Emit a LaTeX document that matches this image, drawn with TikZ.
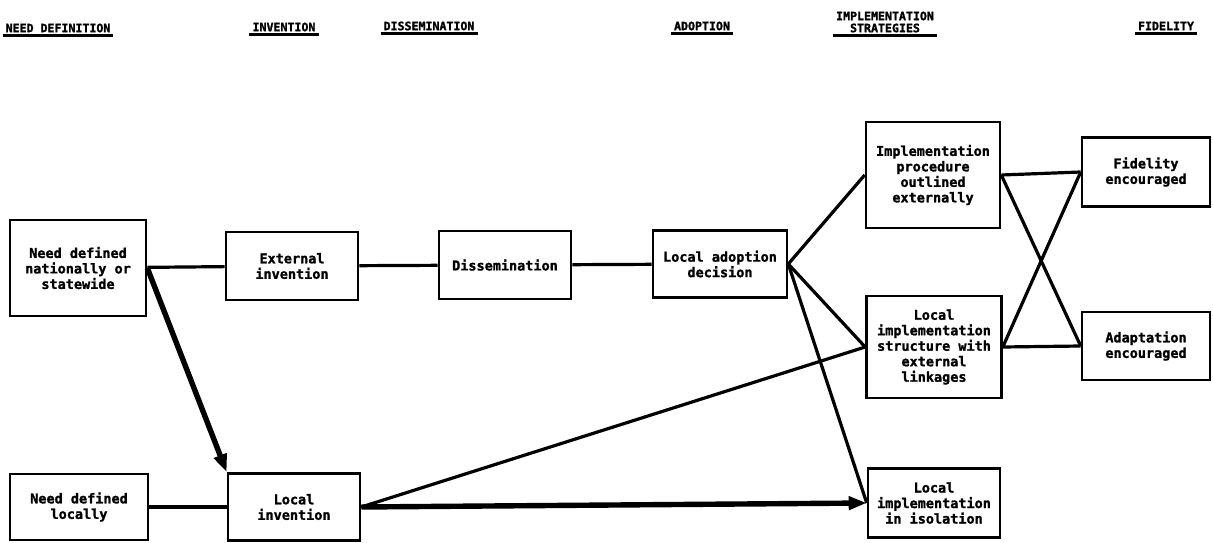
\documentclass[tikz,border=0pt]{standalone}
\usepackage{fontspec}
\setmonofont{DejaVu Sans Mono}[BoldFeatures={FakeBold=1.5}]
\usepackage{tikz}
\usetikzlibrary{arrows.meta}

\begin{document}
\begin{tikzpicture}[x=1pt,y=-1pt,line width=3.2pt]
    \tikzstyle{every node}=[font=\ttfamily\bfseries\fontsize{13.5}{15.5}\selectfont,align=center]
    \tikzstyle{box}=[draw,line width=2.6pt,inner sep=2pt]
    \tikzstyle{head}=[font=\ttfamily\bfseries\fontsize{11.6}{12}\selectfont,inner sep=1.5pt]
    \tikzstyle{ul}=[line width=2.4pt]
    \tikzstyle{heavy}=[line width=5.4pt,-{Triangle[length=18pt,width=13pt]}]
    \useasboundingbox (0,0) rectangle (1213,543);
    % column headings
    \node[head] (hNeed) at (58,28) {NEED DEFINITION};
    \node[head] (hInv) at (284,27) {INVENTION};
    \node[head] (hDiss) at (429,26) {DISSEMINATION};
    \node[head] (hAdopt) at (702,26) {ADOPTION};
    \node[head] (hImpl) at (885,22) {IMPLEMENTATION\\STRATEGIES};
    \node[head] (hFid) at (1166,26) {FIDELITY};
    \draw[ul] (hNeed.south west) to (hNeed.south east);
    \draw[ul] (hInv.south west) to (hInv.south east);
    \draw[ul] (hDiss.south west) to (hDiss.south east);
    \draw[ul] (hAdopt.south west) to (hAdopt.south east);
    \draw[ul] (hImpl.south west) to (hImpl.south east);
    \draw[ul] (hFid.south west) to (hFid.south east);
    % boxes
    \node[box,minimum width=136pt,minimum height=96pt] (NeedNat) at (78,268) {Need defined\\nationally or\\statewide};
    \node[box,minimum width=132pt,minimum height=68pt] (ExtInv) at (292,266) {External\\invention};
    \node[box,minimum width=132pt,minimum height=68pt] (Diss) at (505,265) {Dissemination};
    \node[box,minimum width=134pt,minimum height=67pt] (Adopt) at (720,264) {Local adoption\\decision};
    \node[box,minimum width=134pt,minimum height=106pt] (ImplProc) at (933,175) {Implementation\\procedure\\outlined\\externally};
    \node[box,minimum width=128pt,minimum height=69pt] (Fid) at (1146,172) {Fidelity\\encouraged};
    \node[box,minimum width=135pt,minimum height=102pt] (ImplStruct) at (934,347) {Local\\implementation\\structure with\\external\\linkages};
    \node[box,minimum width=128pt,minimum height=68pt] (Adapt) at (1146,346) {Adaptation\\encouraged};
    \node[box,minimum width=138pt,minimum height=66pt] (NeedLoc) at (79,507) {Need defined\\locally};
    \node[box,minimum width=132pt,minimum height=67pt] (LocInv) at (294,507) {Local\\invention};
    \node[box,minimum width=132pt,minimum height=69pt] (ImplIso) at (934,503) {Local\\implementation\\in isolation};
    % connectors
    \draw (NeedNat) to (ExtInv);
    \draw (ExtInv) to (Diss);
    \draw (Diss) to (Adopt);
    \draw (Adopt.east) to (ImplProc.west);
    \draw (Adopt.east) to (ImplStruct.west);
    \draw (Adopt.east) to (ImplIso.west);
    \draw (NeedLoc) to (LocInv);
    \draw (LocInv.east) to (ImplStruct.west);
    \draw[heavy] (NeedNat.east) to (LocInv.north west);
    \draw[heavy] (LocInv.east) to (ImplIso.west);
    \draw (ImplProc.east) to (Fid.west);
    \draw (ImplProc.east) to (Adapt.west);
    \draw (ImplStruct.east) to (Fid.west);
    \draw (ImplStruct.east) to (Adapt.west);
\end{tikzpicture}
\end{document}
